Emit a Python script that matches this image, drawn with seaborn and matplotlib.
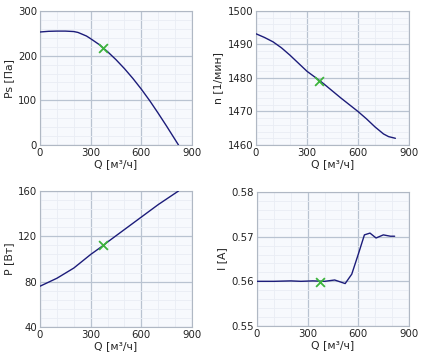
import numpy as np
import pandas as pd
import matplotlib
matplotlib.use("Agg")
import matplotlib.pyplot as plt
import seaborn as sns
from matplotlib.ticker import MultipleLocator

# ------------------- Data -------------------- #
q_ps = [0, 50, 100, 150, 200, 225, 250, 275, 300, 350, 375, 400, 450, 500, 550, 600, 650, 700, 750, 800, 820]
ps = [253, 254.5, 255, 255, 254, 252, 248, 244, 238, 225, 217, 209, 191, 171, 149, 125, 99, 71, 42, 12, 0]

q_n = [0, 50, 100, 150, 200, 300, 375, 400, 500, 600, 650, 700, 750, 780, 820]
n = [1493.2, 1492.1, 1490.8, 1489.0, 1486.8, 1482.0, 1479.2, 1478.2, 1474.0, 1470.0, 1467.8, 1465.4, 1463.3, 1462.5, 1462.0]

q_p = [0, 100, 200, 300, 375, 400, 500, 600, 700, 820]
p = [76, 83, 92, 104, 112, 115, 126, 137, 148, 160]

q_i = [0, 100, 200, 260, 330, 400, 460, 522, 561, 600, 636, 669, 705, 748, 790, 815]
i_a = [0.5600, 0.5600, 0.5601, 0.5600, 0.5601, 0.5600, 0.5603, 0.5595, 0.5616, 0.5661,
       0.5704, 0.5708, 0.5697, 0.5704, 0.5701, 0.5701]

# working point
q_op = 372
op = {"ps": 218, "n": 1479.2, "p": 112, "i": 0.5599}

sns.set_style("white")
plt.rcParams['font.family'] = ['DejaVu Sans']

line_col = "#1c1c7a"
grid_major = "#b9c3d1"
grid_minor = "#e9edf4"
bg = "#f7f9fd"

fig = plt.figure(figsize=(4.24, 3.58), dpi=100)

panels = [
    # (left, top, right, bottom) in pixels, x, y, ylabel, ylim, ymajor, yminor, op
    ((40, 11, 192, 145), q_ps, ps, "Ps [Па]", (0, 300), 100, 20, op["ps"], "{:.0f}"),
    ((256, 11, 409, 145), q_n, n, "n [1/мин]", (1460, 1500), 10, 2, op["n"], "{:.0f}"),
    ((40, 191, 192, 327), q_p, p, "P [Вт]", (40, 160), 40, 8, op["p"], "{:.0f}"),
    ((257, 192, 409, 326), q_i, i_a, "I [A]", (0.55, 0.58), 0.01, 0.002, op["i"], "{:.2f}"),
]

W, H = 424, 358
for (l, t, r, b), xs, ys, ylab, ylim, ymaj, ymin, yop, fmt in panels:
    ax = fig.add_axes([l / W, (H - b) / H, (r - l) / W, (b - t) / H])
    ax.set_facecolor(bg)
    df = pd.DataFrame({"Q": xs, "v": ys})
    sns.lineplot(data=df, x="Q", y="v", ax=ax, color=line_col, linewidth=1.0, zorder=3)
    sns.scatterplot(x=[q_op], y=[yop], ax=ax, marker="x", color="#3cb43c", s=40,
                    linewidth=1.3, zorder=4)
    ax.set_xlim(0, 900)
    ax.set_ylim(*ylim)
    ax.xaxis.set_major_locator(MultipleLocator(300))
    ax.xaxis.set_minor_locator(MultipleLocator(100))
    ax.yaxis.set_major_locator(MultipleLocator(ymaj))
    ax.yaxis.set_minor_locator(MultipleLocator(ymin))
    ticks = np.arange(ylim[0], ylim[1] + ymaj / 2, ymaj)
    ax.set_yticks(ticks)
    ax.set_yticklabels([fmt.format(v) for v in ticks])
    ax.grid(which="major", color=grid_major, linewidth=0.9, zorder=1)
    ax.grid(which="minor", color=grid_minor, linewidth=0.6, zorder=0)
    ax.set_axisbelow(True)
    ax.tick_params(which="both", length=0, labelsize=7.3, pad=2, colors="#222222")
    for s in ax.spines.values():
        s.set_color("#b0b8c4")
        s.set_linewidth(0.8)
    ax.set_xlabel("Q [м³/ч]", fontsize=7.8, labelpad=1)
    ax.set_ylabel(ylab, fontsize=7.8, labelpad=3)

fig.savefig("out.png", dpi=100)
